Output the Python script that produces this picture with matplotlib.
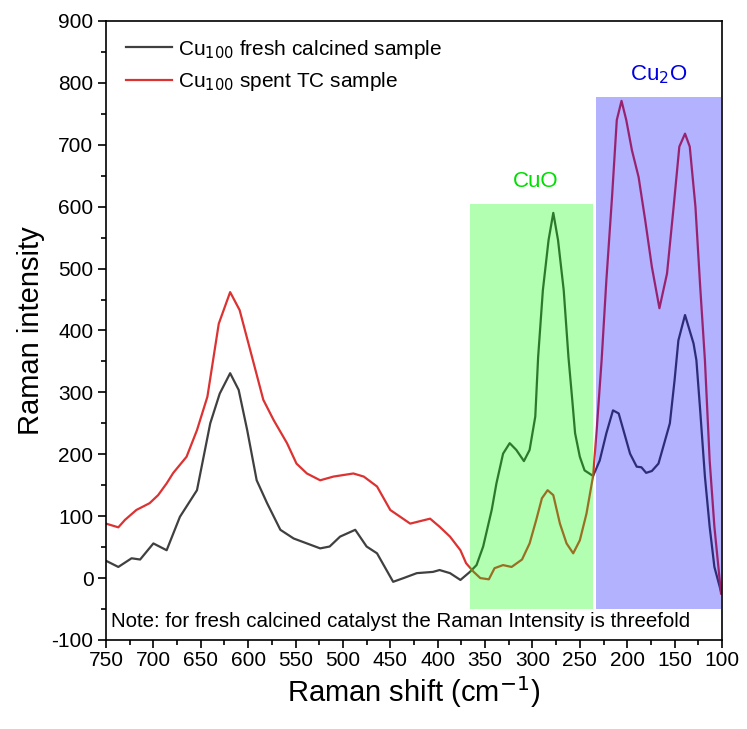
import matplotlib
matplotlib.use("Agg")
import matplotlib.pyplot as plt
from matplotlib.patches import Rectangle
from matplotlib.ticker import MultipleLocator

plt.rcParams['font.family'] = ['Liberation Sans', 'DejaVu Sans']
plt.rcParams['axes.unicode_minus'] = False

# Fresh calcined sample (Raman shift, intensity)
fresh_x = [750, 737, 723, 714, 700, 686, 672, 654, 640, 630, 619, 610, 601, 591, 580,
           566, 552, 538, 524, 514, 503, 487, 475, 464, 447, 436, 422, 405, 398, 387,
           376, 366, 359, 352, 343, 338, 331, 324, 317, 309, 303, 297, 294, 289, 283,
           278, 273, 267, 262, 258, 255, 250, 245, 236, 229, 222, 215, 209, 204, 197,
           190, 185, 180, 174, 167, 162, 155, 150, 146, 139, 130, 127, 123, 118, 113,
           108, 101]
fresh_y = [28, 18, 32, 30, 56, 45, 99, 142, 250, 298, 331, 304, 239, 158, 121,
           78, 64, 56, 48, 51, 67, 78, 51, 40, -6, 0, 8, 10, 13, 8,
           -3, 10, 21, 51, 110, 153, 201, 218, 207, 189, 207, 261, 357, 465, 546,
           590, 546, 465, 357, 288, 234, 196, 174, 165, 190, 234, 271, 266, 239, 201,
           180, 179, 170, 173, 185, 212, 250, 320, 384, 425, 379, 352, 271, 164, 83,
           18, -22]

# Spent TC sample
spent_x = [750, 737, 730, 718, 704, 695, 686, 679, 665, 654, 643, 631, 619, 609, 595,
           584, 573, 559, 549, 538, 524, 510, 489, 478, 464, 450, 429, 408, 398, 387,
           376, 370, 362, 355, 346, 340, 331, 322, 311, 303, 296, 290, 284, 278, 271,
           264, 257, 250, 243, 236, 232, 227, 222, 216, 211, 206, 201, 195, 188, 181,
           174, 166, 158, 151, 145, 139, 134, 128, 123, 118, 113, 108, 101]
spent_y = [88, 82, 94, 110, 121, 134, 153, 170, 196, 239, 293, 411, 462, 433, 352,
           288, 255, 218, 185, 169, 158, 164, 169, 164, 148, 110, 88, 96, 83, 67,
           45, 24, 10, 0, -2, 16, 21, 18, 30, 56, 94, 129, 142, 134, 88,
           56, 40, 61, 104, 165, 244, 352, 481, 616, 740, 771, 740, 691, 648, 578,
           503, 436, 492, 600, 697, 718, 697, 600, 471, 352, 190, 83, -25]

# Highlighted regions: (x_high, x_low, y_low, y_high)
cuo_region = (366, 236, -50, 605)
cu2o_region = (233, 101, -50, 777)

fig = plt.figure(figsize=(7.47, 7.29), dpi=100)
ax = fig.add_axes([0.1419, 0.1221, 0.8246, 0.8491])

ax.plot(fresh_x, fresh_y, color='#404040', lw=1.6,
        label='Cu$_{100}$ fresh calcined sample', zorder=2)
ax.plot(spent_x, spent_y, color='#dc3232', lw=1.6,
        label='Cu$_{100}$ spent TC sample', zorder=2)

for (xh, xl, yl, yh), c in [(cuo_region, '#00ff00'), (cu2o_region, '#0000ff')]:
    ax.add_patch(Rectangle((xl, yl), xh - xl, yh - yl, facecolor=c, alpha=0.3,
                           edgecolor='none', zorder=3))

ax.text((cuo_region[0] + cuo_region[1]) / 2 - 4, cuo_region[3] + 18, 'CuO',
        color='#00dd00', fontsize=16, ha='center', va='bottom')
ax.text((cu2o_region[0] + cu2o_region[1]) / 2, cu2o_region[3] + 18, 'Cu$_2$O',
        color='#0000e0', fontsize=16, ha='center', va='bottom')

ax.text(745, -70, 'Note: for fresh calcined catalyst the Raman Intensity is threefold',
        fontsize=14.8, ha='left', va='center', color='black')

ax.set_xlim(750, 100)
ax.set_ylim(-100, 900)
ax.xaxis.set_major_locator(MultipleLocator(50))
ax.xaxis.set_minor_locator(MultipleLocator(25))
ax.yaxis.set_major_locator(MultipleLocator(100))
ax.yaxis.set_minor_locator(MultipleLocator(50))
ax.tick_params(which='major', direction='out', length=6, width=1.2)
ax.tick_params(which='minor', direction='out', length=3.5, width=1.2)
ax.tick_params(axis='x', labelsize=15, pad=2)
ax.tick_params(axis='y', labelsize=15, pad=3)
ax.tick_params(top=False, right=False, which='both')
for s in ax.spines.values():
    s.set_linewidth(1.2)

ax.set_xlabel('Raman shift (cm$^{-1}$)', fontsize=21, labelpad=3)
ax.set_ylabel('Raman intensity', fontsize=21, labelpad=5)

ax.legend(loc='upper left', frameon=False, fontsize=15, handlelength=2.2,
          handletextpad=0.3, borderaxespad=0.4, labelspacing=0.45,
          bbox_to_anchor=(0.005, 1.0))

fig.savefig('out.png', dpi=100)
